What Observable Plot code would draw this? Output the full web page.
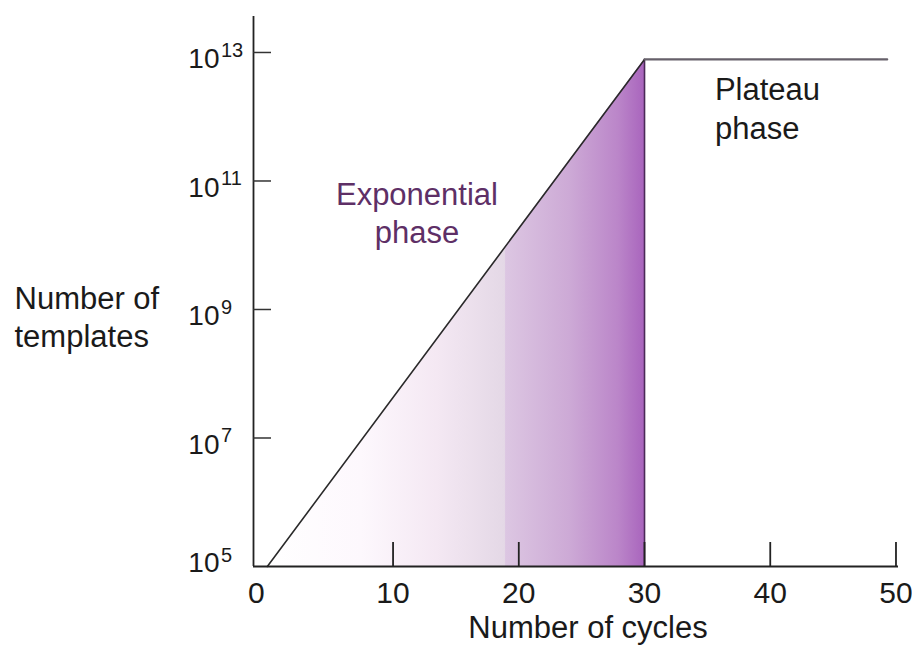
<!DOCTYPE html>
<html>
<head>
<meta charset="utf-8">
<script src="https://cdn.jsdelivr.net/npm/d3@7"></script>
<script src="https://cdn.jsdelivr.net/npm/@observablehq/plot@0.6"></script>
<style>
  html, body { margin: 0; padding: 0; background: #ffffff; }
  #chart svg { display: block; }
</style>
</head>
<body>
<div id="chart"></div>
<script>
// ---- data ----
const cycles = [0, 30, 49.3];
const templates = [1e5, 7.8e12, 7.8e12];
const xTicks = [10, 20, 30, 40, 50];
const xZeroLabel = [0];
const yTickExponents = [5, 7, 9, 11, 13];
const xDomain = [-1.1, 50.2];
const yDomain = [1e5, Math.pow(10, 13.56)];
const exponentialLabel = [{cycle: 11.9, templates: 3.3e10, text: "Exponential\nphase"}];
const plateauLabel = [{cycle: 35.6, templates: 1.4e12, text: "Plateau\nphase"}];
const xTitle = "Number of cycles";
const yTitle = "Number of templates";

const curve = cycles.map((c, i) => ({cycle: c, templates: templates[i]}));
const expPhase = curve.filter(d => d.cycle <= 30);
const plateauStart = expPhase[expPhase.length - 1];

const W = 912, H = 653;
const mL = 253, mT = 16, mR = 14, mB = 87;
const frameW = W - mL - mR, frameH = H - mT - mB;
const font = "'Liberation Sans', Arial, Helvetica, sans-serif";
const ink = "#1a1a1a";

const chart = Plot.plot({
  width: W,
  height: H,
  marginLeft: mL,
  marginTop: mT,
  marginRight: mR,
  marginBottom: mB,
  style: {fontFamily: font, background: "#ffffff", color: ink},
  x: {domain: xDomain, axis: null},
  y: {type: "log", domain: yDomain, axis: null},
  marks: [
    // shaded exponential phase
    Plot.areaY(expPhase, {x: "cycle", y1: yDomain[0], y2: "templates", fill: "url(#expGrad)"}),
    // right edge of the shaded region
    Plot.ruleX([plateauStart], {x: "cycle", y1: yDomain[0], y2: "templates", stroke: "#4b2a58", strokeWidth: 1.6}),
    // curve
    Plot.line(curve.slice(0, 2), {x: "cycle", y: "templates", stroke: "#2a2a2a", strokeWidth: 1.6}),
    Plot.line(curve.slice(1), {x: "cycle", y: "templates", stroke: "#66606a", strokeWidth: 2.2}),
    // axes lines
    Plot.ruleX([xDomain[0]], {stroke: "#222", strokeWidth: 1.8}),
    Plot.ruleY([yDomain[0]], {stroke: "#222", strokeWidth: 1.8}),
    // inward ticks
    Plot.tickX(xTicks, {x: d => d, stroke: "#222", strokeWidth: 1.8, insetTop: frameH - 24}),
    Plot.tickY(yTickExponents.filter(e => e > 5), {y: d => Math.pow(10, d), stroke: "#333", strokeWidth: 1.5, insetRight: frameW - 18}),
    // x tick labels
    Plot.text(xTicks, {x: d => d, text: d => String(d), frameAnchor: "bottom", lineAnchor: "middle", dy: 27, fontSize: 30, fill: ink}),
    Plot.text(xZeroLabel, {x: d => d, text: d => String(d), frameAnchor: "bottom", lineAnchor: "middle", dy: 27, dx: -11, fontSize: 30, fill: ink}),
    // y tick labels: base and superscript
    Plot.text(yTickExponents.filter(e => e > 5), {y: d => Math.pow(10, d), text: () => "10", frameAnchor: "left", textAnchor: "end", lineAnchor: "middle", dx: -34, dy: 7, fontSize: 28, fill: ink}),
    Plot.text(yTickExponents.filter(e => e > 5), {y: d => Math.pow(10, d), text: d => String(d), frameAnchor: "left", textAnchor: "start", lineAnchor: "middle", dx: -32.5, dy: -2, fontSize: 20, fill: ink}),
    Plot.text(yTickExponents.filter(e => e === 5), {y: d => Math.pow(10, d), text: () => "10", frameAnchor: "left", textAnchor: "end", lineAnchor: "middle", dx: -34, dy: -3, fontSize: 28, fill: ink}),
    Plot.text(yTickExponents.filter(e => e === 5), {y: d => Math.pow(10, d), text: d => String(d), frameAnchor: "left", textAnchor: "start", lineAnchor: "middle", dx: -32.5, dy: -11, fontSize: 20, fill: ink}),
    // phase labels
    Plot.text(exponentialLabel, {x: "cycle", y: "templates", text: "text", fontSize: 31, lineHeight: 1.23, fill: "#5e2f66", textAnchor: "middle"}),
    Plot.text(plateauLabel, {x: "cycle", y: "templates", text: "text", fontSize: 31, lineHeight: 1.23, fill: ink, textAnchor: "start"}),
    // axis titles
    Plot.text([xTitle], {frameAnchor: "bottom", lineAnchor: "middle", dy: 62, dx: 12, fontSize: 31, fill: ink}),
    Plot.text([yTitle.replace(" templates", "\ntemplates")], {frameAnchor: "left", textAnchor: "start", lineAnchor: "middle", dx: -(mL - 14), dy: 24, fontSize: 31, lineHeight: 1.25, fill: ink})
  ]
});

// gradient definition for the exponential-phase shading
const ns = "http://www.w3.org/2000/svg";
const defs = document.createElementNS(ns, "defs");
defs.innerHTML = `
  <linearGradient id="expGrad" x1="0" y1="0" x2="1" y2="0">
    <stop offset="0" stop-color="#ffffff"/>
    <stop offset="0.25" stop-color="#fdf8fd"/>
    <stop offset="0.45" stop-color="#f4e8f3"/>
    <stop offset="0.63" stop-color="#e4d8e6"/>
    <stop offset="0.633" stop-color="#dcc6e2"/>
    <stop offset="0.8" stop-color="#cdaad6"/>
    <stop offset="0.93" stop-color="#bb86c9"/>
    <stop offset="1" stop-color="#a965bd"/>
  </linearGradient>`;
chart.insertBefore(defs, chart.firstChild);
document.getElementById("chart").appendChild(chart);
</script>
</body>
</html>
